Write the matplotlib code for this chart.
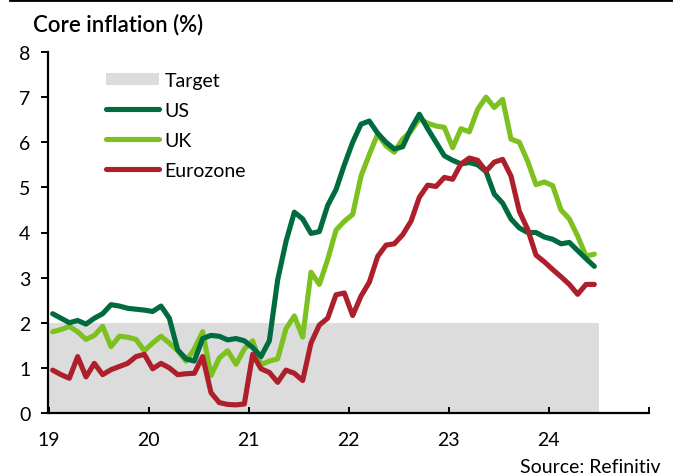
import numpy as np
import matplotlib.pyplot as plt
from matplotlib.lines import Line2D
from matplotlib.patches import Patch

plt.rcParams['font.family'] = ['Lato', 'DejaVu Sans']

# Monthly core inflation, Jan 2019 - Jun 2024
us = [2.2, 2.1, 2.0, 2.05, 1.97, 2.1, 2.2, 2.4, 2.37, 2.32, 2.3, 2.28,
      2.25, 2.37, 2.1, 1.4, 1.2, 1.15, 1.65, 1.72, 1.7, 1.62, 1.65, 1.6,
      1.45, 1.25, 1.6, 2.95, 3.8, 4.45, 4.3, 3.98, 4.02, 4.6, 4.95, 5.5,
      6.0, 6.4, 6.47, 6.2, 6.0, 5.85, 5.9, 6.3, 6.62, 6.3, 6.0, 5.7,
      5.6, 5.52, 5.55, 5.5, 5.35, 4.85, 4.65, 4.3, 4.1, 4.0, 4.0, 3.9,
      3.85, 3.75, 3.78, 3.6, 3.42, 3.25]
uk = [1.8, 1.85, 1.92, 1.8, 1.63, 1.72, 1.92, 1.47, 1.7, 1.68, 1.63, 1.38,
      1.55, 1.7, 1.55, 1.38, 1.15, 1.42, 1.8, 0.83, 1.22, 1.38, 1.08, 1.42,
      1.6, 1.07, 1.15, 1.2, 1.87, 2.15, 1.68, 3.12, 2.85, 3.4, 4.05, 4.25,
      4.4, 5.25, 5.73, 6.18, 5.92, 5.78, 6.07, 6.25, 6.52, 6.42, 6.36, 6.33,
      5.88, 6.3, 6.23, 6.73, 7.0, 6.77, 6.95, 6.07, 6.0, 5.58, 5.06, 5.12,
      5.04, 4.5, 4.3, 3.92, 3.48, 3.52]
ez = [0.95, 0.85, 0.77, 1.25, 0.8, 1.1, 0.85, 0.96, 1.03, 1.1, 1.25, 1.3,
      0.98, 1.1, 1.0, 0.85, 0.87, 0.88, 1.25, 0.45, 0.23, 0.19, 0.18, 0.2,
      1.3, 0.98, 0.9, 0.68, 0.95, 0.88, 0.72, 1.55, 1.95, 2.1, 2.62, 2.66,
      2.16, 2.59, 2.9, 3.47, 3.72, 3.75, 3.95, 4.25, 4.78, 5.05, 5.02, 5.22,
      5.18, 5.52, 5.65, 5.6, 5.36, 5.56, 5.62, 5.25, 4.47, 4.07, 3.5, 3.35,
      3.18, 3.02, 2.85, 2.63, 2.85, 2.85]
target = 2.0
x_labels = ['19', '20', '21', '22', '23', '24', '']

months = 19 + (np.arange(len(us)) + 0.5) / 12

fig = plt.figure(figsize=(6.73, 4.77), dpi=100)
ax = fig.add_axes([48.5 / 673, 1 - 414 / 477, 600 / 673, 361 / 477])

ax.fill_between([19, 24.5], 0, target, color='#dcdcdc', lw=0, zorder=1)
ax.plot(months, us, color='#006b3f', lw=3.7, solid_capstyle='round', zorder=3)
ax.plot(months, uk, color='#7cc11f', lw=3.7, solid_capstyle='round', zorder=2)
ax.plot(months, ez, color='#ad1f2a', lw=3.7, solid_capstyle='round', zorder=4)

ax.set_xlim(19, 25)
ax.set_ylim(0, 8)
ax.set_xticks(range(19, 26))
ax.set_xticklabels(x_labels)
ax.set_yticks(range(0, 9))

for s in ['top', 'right']:
    ax.spines[s].set_visible(False)
ax.spines['left'].set_linewidth(1.6)
ax.spines['bottom'].set_linewidth(1.6)
ax.tick_params(axis='x', direction='in', length=4, width=1.4, pad=13, labelsize=14)
ax.tick_params(axis='y', direction='out', length=5, width=1.4, pad=8, labelsize=14)

handles = [Patch(facecolor='#dcdcdc', edgecolor='none'),
           Line2D([], [], color='#006b3f', lw=3.7, solid_capstyle='round'),
           Line2D([], [], color='#7cc11f', lw=3.7, solid_capstyle='round'),
           Line2D([], [], color='#ad1f2a', lw=3.7, solid_capstyle='round')]
ax.legend(handles, ['Target', 'US', 'UK', 'Eurozone'], loc='upper left',
          bbox_to_anchor=(0.08, 0.972), frameon=False, fontsize=14,
          handlelength=2.7, handleheight=0.6, handletextpad=0.3,
          labelspacing=0.67, borderpad=0)

fig.text(33 / 673, 1 - 25 / 477, 'Core inflation (%)', fontsize=16,
         fontweight='semibold', va='center', ha='left')
fig.text(661 / 673, 1 - 468 / 477, 'Source: Refinitiv', fontsize=14,
         va='center', ha='right')
fig.add_artist(Line2D([10 / 673, 1], [0.998, 0.998], color='black', lw=2))

fig.savefig('out.png', dpi=100)
